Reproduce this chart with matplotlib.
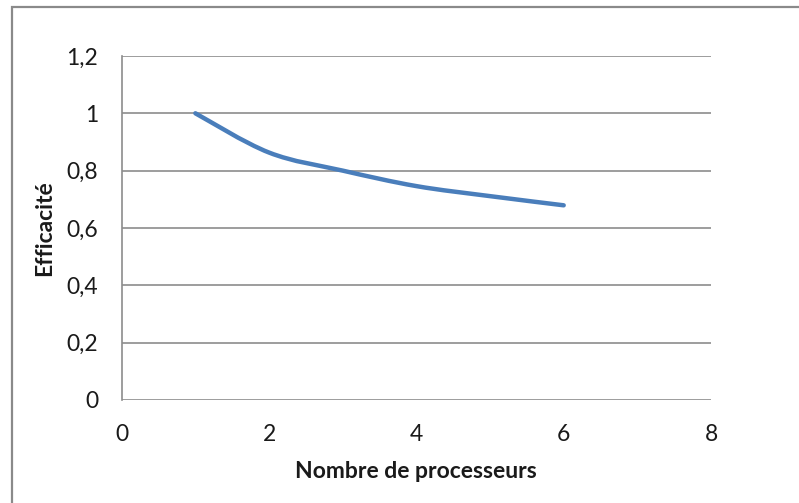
import numpy as np
import matplotlib.pyplot as plt
from matplotlib.path import Path
from matplotlib.patches import PathPatch, Rectangle

processeurs = [1, 2, 3, 4, 5, 6]
efficacite = [1.0, 0.863, 0.80, 0.746, 0.711, 0.679]

x_ticks = [0, 2, 4, 6, 8]
y_ticks = [0, 0.2, 0.4, 0.6, 0.8, 1.0, 1.2]
y_labels = ["0", "0,2", "0,4", "0,6", "0,8", "1", "1,2"]

plt.rcParams['font.family'] = ['Lato', 'DejaVu Sans']


def smooth_path(xs, ys):
    # excel-like smoothed line: bezier segments through the points
    pts = np.column_stack([xs, ys]).astype(float)
    n = len(pts)
    verts = [pts[0]]
    codes = [Path.MOVETO]
    for i in range(n - 1):
        p0 = pts[i - 1] if i > 0 else pts[i]
        p1 = pts[i]
        p2 = pts[i + 1]
        p3 = pts[i + 2] if i + 2 < n else pts[i + 1]
        c1 = p1 + (p2 - p0) / 6.0
        c2 = p2 - (p3 - p1) / 6.0
        verts += [c1, c2, p2]
        codes += [Path.CURVE4] * 3
    return Path(verts, codes)


fig = plt.figure(figsize=(7.99, 5.03), dpi=100)
ax = fig.add_axes([0.1523, 0.2048, 0.7376, 0.684])

grid_col = "#8c8c8c"
for v in y_ticks:
    ax.axhline(v, color=grid_col, lw=1.2, zorder=1)

ax.add_patch(PathPatch(smooth_path(processeurs, efficacite), facecolor="none",
                       edgecolor="#4a7ebb", lw=3.2, capstyle="round", zorder=3))

ax.set_xlim(0, 8)
ax.set_ylim(0, 1.2)
ax.set_xticks(x_ticks)
ax.set_xticklabels([str(t) for t in x_ticks])
ax.set_yticks(y_ticks)
ax.set_yticklabels(y_labels)
ax.tick_params(length=0, labelsize=16.5, colors="#1a1a1a")
ax.tick_params(axis="x", pad=17)
ax.tick_params(axis="y", pad=17)

for s in ["top", "right", "bottom"]:
    ax.spines[s].set_visible(False)
ax.spines["left"].set_color(grid_col)
ax.spines["left"].set_linewidth(1.2)

ax.set_xlabel("Nombre de processeurs", fontsize=16.5, fontweight="bold",
              labelpad=12, color="#1a1a1a")
ax.set_ylabel("Efficacité", fontsize=16.5, fontweight="bold",
              labelpad=8, color="#1a1a1a")

# outer chart frame
fig.patches.append(Rectangle((12 / 799, -0.05), 1.1, (496 / 503) + 0.05,
                             transform=fig.transFigure, fill=False,
                             edgecolor="#8a8a8a", lw=1.6))

fig.savefig("out.png", dpi=100)
